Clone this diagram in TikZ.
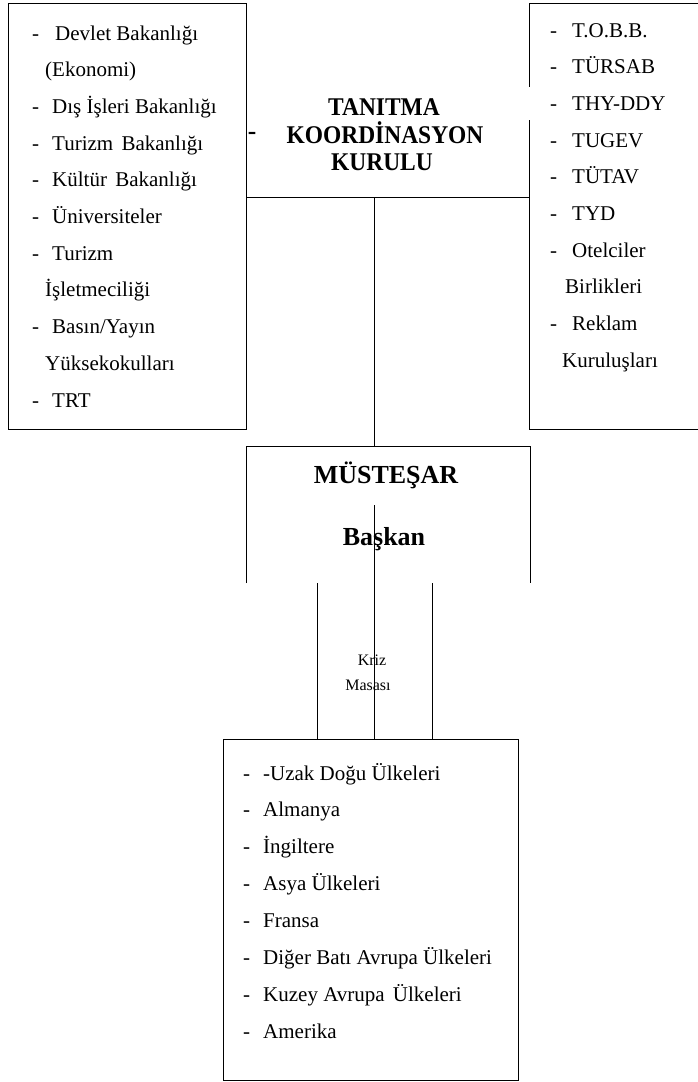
\documentclass[tikz,border=0pt]{standalone}
\usepackage{fontspec}
\setmainfont{Liberation Serif}
\usetikzlibrary{positioning}

\begin{document}
\begin{tikzpicture}[x=1pt,y=-1pt]
\def\LCOL{black}
\tikzstyle{frm} = [draw=\LCOL, line width=1pt]
\tikzstyle{itm} = [anchor=base west, inner sep=0pt, font=\fontsize{21}{21}\selectfont]
\tikzstyle{ttl} = [anchor=base, inner sep=0pt, font=\bfseries\fontsize{25.5}{25.5}\selectfont]
\tikzstyle{hdr} = [anchor=base, inner sep=0pt, font=\bfseries\fontsize{26}{26}\selectfont]
\tikzstyle{sml} = [anchor=base, inner sep=0pt, font=\fontsize{16}{16}\selectfont]
\def\DL{\makebox[20pt][l]{-}}
\def\DR{\makebox[22pt][l]{-}}
\def\CX#1{\scalebox{0.92}[1]{#1}}
\useasboundingbox (0,0) rectangle (698,1082);

% boxes
\draw[frm] (8,3) rectangle (246,429);
\draw[frm] (246,197) -- (529,197);
\draw[frm] (698,3) -- (529,3) -- (529,87);
\draw[frm] (529,120) -- (529,429) -- (698,429);
\draw[frm] (246,583) -- (246,446) -- (530,446) -- (530,583);
\draw[frm] (223,739) rectangle (518,1080);

% left list
\node[itm] (L1) at (32,40) {\DL\hspace{3pt}Devlet Bakanlığı};
\node[itm] (L2) at (45,76.7) {(Ekonomi)};
\node[itm] (L3) at (32,113.4) {\DL Dış İşleri Bakanlığı};
\node[itm] (L4) at (32,150.1) {\DL Turizm\hspace{3pt} Bakanlığı};
\node[itm] (L5) at (32,186.8) {\DL Kültür\hspace{3pt} Bakanlığı};
\node[itm] (L6) at (32,223.5) {\DL Üniversiteler};
\node[itm] (L7) at (32,260.2) {\DL Turizm};
\node[itm] (L8) at (45,296.9) {İşletmeciliği};
\node[itm] (L9) at (32,333.6) {\DL Basın/Yayın};
\node[itm] (L10) at (45,370.3) {Yüksekokulları};
\node[itm] (L11) at (32,407) {\DL TRT};

% title
\node[ttl] (T1) at (384,115) {\CX{TANITMA}};
\node[ttl] (T2) at (385,143.5) {\CX{KOORDİNASYON}};
\node[ttl] (T3) at (382,170.5) {\CX{KURULU}};
\node[ttl,anchor=center] (TD) at (252,136) {-};

% right list
\node[itm] (R1) at (550,37) {\DR T.O.B.B.};
\node[itm] (R2) at (550,73.7) {\DR TÜRSAB};
\node[itm] (R3) at (550,110.4) {\DR THY-DDY};
\node[itm] (R4) at (550,147.1) {\DR TUGEV};
\node[itm] (R5) at (550,183.8) {\DR TÜTAV};
\node[itm] (R6) at (550,220.5) {\DR TYD};
\node[itm] (R7) at (550,257.2) {\DR Otelciler};
\node[itm] (R8) at (565,293.9) {Birlikleri};
\node[itm] (R9) at (550,330.6) {\DR Reklam};
\node[itm] (R10) at (562,367.3) {Kuruluşları};

% middle
\node[hdr] (M1) at (386,483) {MÜSTEŞAR};
\node[hdr] (M2) at (384,545) {Başkan};
\node[sml] (K1) at (372,665) {Kriz};
\node[sml] (K2) at (368,690) {Masası};

\coordinate (C1) at (374,197);
\coordinate (C2) at (374,446);
\coordinate (C3) at (374,505);
\coordinate (C4) at (374,739);
\coordinate (P1) at (317,583);
\coordinate (P2) at (317,739);
\coordinate (Q1) at (432,583);
\coordinate (Q2) at (432,739);
\draw[frm] (C1) -- (C2);
\draw[frm] (C3) -- (C4);
\draw[frm] (P1) -- (P2);
\draw[frm] (Q1) -- (Q2);

% bottom list
\node[itm] (U1) at (243,780) {\DL -Uzak Doğu Ülkeleri};
\node[itm] (U2) at (243,816.9) {\DL Almanya};
\node[itm] (U3) at (243,853.7) {\DL İngiltere};
\node[itm] (U4) at (243,890.6) {\DL Asya Ülkeleri};
\node[itm] (U5) at (243,927.4) {\DL Fransa};
\node[itm] (U6) at (243,964.3) {\DL Diğer Batı Avrupa Ülkeleri};
\node[itm] (U7) at (243,1001.1) {\DL Kuzey Avrupa\hspace{3pt} Ülkeleri};
\node[itm] (U8) at (243,1038) {\DL Amerika};

\end{tikzpicture}
\end{document}
